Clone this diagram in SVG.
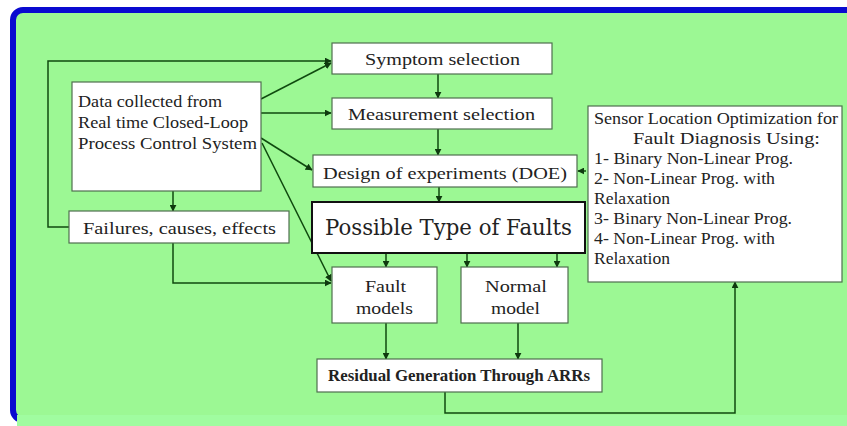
<svg xmlns="http://www.w3.org/2000/svg" width="847" height="426" viewBox="0 0 847 426">
<style>
.box{fill:#fff;stroke:#4f6f4f;stroke-width:1.2}
.t{font-family:"Liberation Serif","Times New Roman",serif;fill:#222;font-size:17px}
.c{text-anchor:middle}
.ln{fill:none;stroke:#0f4a0f;stroke-width:1.5}
</style>
<defs>
<marker id="ah" viewBox="0 0 10 10" refX="9" refY="5" markerWidth="7" markerHeight="7" markerUnits="userSpaceOnUse" orient="auto">
<path d="M0,0 L10,5 L0,10 z" fill="#0f3a0f"/>
</marker>
</defs>
<rect x="0" y="0" width="847" height="426" fill="#ffffff"/>
<rect x="13" y="10" width="870" height="410" rx="10" fill="#9cf894" stroke="#0a0ad0" stroke-width="6"/>
<rect x="17" y="415" width="830" height="11" fill="#a0fca0"/>

<g id="connectors">
<polyline class="ln" points="69,227 48,227 48,61 331,61" marker-end="url(#ah)"/>
<line class="ln" x1="261" y1="99" x2="331" y2="63" marker-end="url(#ah)"/>
<line class="ln" x1="261" y1="113" x2="331" y2="113" marker-end="url(#ah)"/>
<line class="ln" x1="261" y1="138" x2="312" y2="170" marker-end="url(#ah)"/>
<line class="ln" x1="262" y1="143" x2="331" y2="281" marker-end="url(#ah)"/>
<line class="ln" x1="173" y1="191" x2="173" y2="211" marker-end="url(#ah)"/>
<polyline class="ln" points="173,243 173,283 331,283" marker-end="url(#ah)"/>
<line class="ln" x1="438" y1="74" x2="438" y2="98" marker-end="url(#ah)"/>
<line class="ln" x1="438" y1="129" x2="438" y2="155" marker-end="url(#ah)"/>
<line class="ln" x1="439" y1="187" x2="439" y2="202" marker-end="url(#ah)"/>
<line class="ln" x1="386" y1="253" x2="386" y2="267" marker-end="url(#ah)"/>
<line class="ln" x1="467" y1="253" x2="467" y2="267" marker-end="url(#ah)"/>
<line class="ln" x1="557" y1="253" x2="557" y2="267" marker-end="url(#ah)"/>
<line class="ln" x1="386" y1="323" x2="386" y2="359" marker-end="url(#ah)"/>
<line class="ln" x1="518" y1="323" x2="518" y2="359" marker-end="url(#ah)"/>
<polyline class="ln" points="445,392 445,413 735,413 735,282" marker-end="url(#ah)"/>
<line class="ln" x1="586" y1="171" x2="578" y2="171" marker-end="url(#ah)"/>
</g>

<g id="data">
<rect class="box" x="72" y="82" width="189" height="109"/>
<text class="t" x="78" y="107" textLength="144" lengthAdjust="spacingAndGlyphs">Data collected from</text>
<text class="t" x="78" y="128" textLength="170" lengthAdjust="spacingAndGlyphs">Real time Closed-Loop</text>
<text class="t" x="78" y="149" textLength="179" lengthAdjust="spacingAndGlyphs">Process Control System</text>
</g>
<g id="failures">
<rect class="box" x="69" y="211" width="220" height="32"/>
<text class="t" x="83" y="234" font-size="20" textLength="193" lengthAdjust="spacingAndGlyphs">Failures, causes, effects</text>
</g>
<g id="symptom">
<rect class="box" x="332" y="43" width="220" height="31"/>
<text class="t" x="365" y="65" font-size="20" textLength="155" lengthAdjust="spacingAndGlyphs">Symptom selection</text>
</g>
<g id="measurement">
<rect class="box" x="332" y="98" width="220" height="31"/>
<text class="t" x="348" y="120" font-size="20" textLength="187" lengthAdjust="spacingAndGlyphs">Measurement selection</text>
</g>
<g id="doe">
<rect class="box" x="313" y="155" width="264" height="32"/>
<text class="t" x="323" y="179" font-size="20" textLength="244" lengthAdjust="spacingAndGlyphs">Design of experiments (DOE)</text>
</g>
<g id="faults">
<rect x="312" y="202" width="273" height="51" fill="#fff" stroke="#111" stroke-width="2"/>
<text x="325" y="235" font-family="'DejaVu Serif',serif" font-size="23" fill="#222" textLength="247" lengthAdjust="spacingAndGlyphs">Possible Type of Faults</text>
</g>
<g id="fault-models">
<rect class="box" x="332" y="267" width="105" height="56"/>
<text class="t" x="365" y="292" font-size="20" textLength="41" lengthAdjust="spacingAndGlyphs">Fault</text>
<text class="t" x="356" y="314" font-size="20" textLength="57" lengthAdjust="spacingAndGlyphs">models</text>
</g>
<g id="normal-model">
<rect class="box" x="461" y="267" width="107" height="56"/>
<text class="t" x="485" y="292" font-size="20" textLength="62" lengthAdjust="spacingAndGlyphs">Normal</text>
<text class="t" x="491" y="314" font-size="20" textLength="49" lengthAdjust="spacingAndGlyphs">model</text>
</g>
<g id="residual">
<rect class="box" x="317" y="359" width="285" height="33"/>
<text class="t" x="328" y="381" font-size="15" font-weight="bold" textLength="262" lengthAdjust="spacingAndGlyphs">Residual Generation Through ARRs</text>
</g>
<g id="sensor">
<rect class="box" x="588" y="106" width="254" height="176"/>
<text class="t" x="594" y="124" font-size="16.5" textLength="244" lengthAdjust="spacingAndGlyphs">Sensor Location Optimization for</text>
<text class="t" x="633" y="144" font-size="16.5" textLength="187" lengthAdjust="spacingAndGlyphs">Fault Diagnosis Using:</text>
<text class="t" x="594" y="164" font-size="16.5" textLength="199" lengthAdjust="spacingAndGlyphs">1- Binary Non-Linear Prog.</text>
<text class="t" x="594" y="184" font-size="16.5" textLength="181" lengthAdjust="spacingAndGlyphs">2- Non-Linear Prog. with</text>
<text class="t" x="594" y="204" font-size="16.5" textLength="76" lengthAdjust="spacingAndGlyphs">Relaxation</text>
<text class="t" x="594" y="224" font-size="16.5" textLength="198" lengthAdjust="spacingAndGlyphs">3- Binary Non-Linear Prog.</text>
<text class="t" x="594" y="244" font-size="16.5" textLength="181" lengthAdjust="spacingAndGlyphs">4- Non-Linear Prog. with</text>
<text class="t" x="594" y="264" font-size="16.5" textLength="76" lengthAdjust="spacingAndGlyphs">Relaxation</text>
</g>
</svg>
